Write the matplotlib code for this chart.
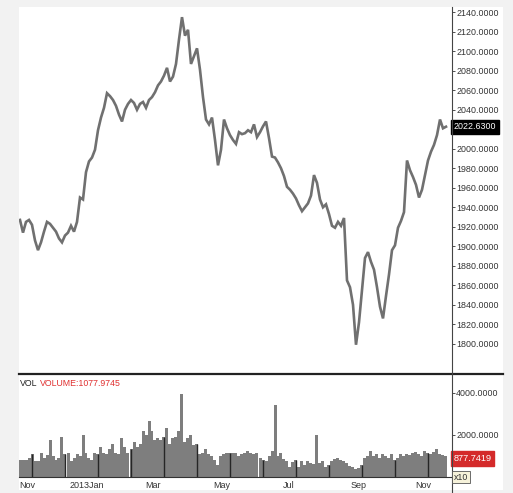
import matplotlib
matplotlib.use("Agg")
import matplotlib.pyplot as plt
import matplotlib.transforms as mtransforms
from matplotlib.patches import Rectangle
from matplotlib.lines import Line2D

plt.rcParams['font.family'] = ['Liberation Sans', 'DejaVu Sans']

# --- data (one value every ~1.5 trading days) ---
price = [1927, 1914, 1925, 1927, 1922, 1906, 1896, 1904, 1915, 1925,
         1923, 1919, 1915, 1908, 1904, 1911, 1914, 1921, 1915, 1925,
         1950, 1948, 1976, 1987, 1991, 1999, 2019, 2032, 2042, 2057,
         2054, 2050, 2044, 2035, 2028, 2040, 2046, 2050, 2047, 2040,
         2046, 2048, 2042, 2050, 2053, 2058, 2065, 2069, 2075, 2083,
         2069, 2074, 2087, 2112, 2135, 2116, 2122, 2087, 2095, 2103,
         2081, 2053, 2030, 2025, 2032, 2009, 1983, 1999, 2030, 2021,
         2014, 2009, 2005, 2017, 2015, 2016, 2019, 2017, 2025, 2012,
         2017, 2023, 2028, 2011, 1992, 1991, 1986, 1980, 1972, 1961,
         1958, 1954, 1949, 1942, 1936, 1940, 1944, 1952, 1973, 1965,
         1948, 1940, 1943, 1933, 1921, 1919, 1925, 1921, 1929, 1865,
         1858, 1840, 1799, 1822, 1855, 1888, 1894, 1884, 1876, 1858,
         1838, 1826, 1849, 1871, 1896, 1901, 1919, 1926, 1935, 1988,
         1978, 1971, 1963, 1950, 1958, 1973, 1988, 1997, 2004, 2014,
         2030, 2021, 2022.63]

volume = [800, 800, 800, 910, 1080, 740, 740, 1160, 910, 1030,
          1750, 1000, 830, 910, 1920, 1080, 1160, 740, 910, 1080,
          1000, 2000, 1160, 910, 830, 1160, 1080, 1420, 1160, 1080,
          1330, 1590, 1160, 1080, 1840, 1420, 1160, 1330, 1670, 1420,
          1590, 2210, 2010, 2680, 2210, 1750, 1840, 1750, 1920, 2340,
          1590, 1840, 1920, 2170, 3950, 1670, 1840, 2000, 1500, 1590,
          1080, 1160, 1330, 1080, 1000, 830, 570, 1000, 1080, 1160,
          1160, 1160, 1160, 1000, 1080, 1160, 1240, 1160, 1080, 1160,
          910, 830, 740, 1000, 1240, 3440, 1000, 1160, 860, 740,
          490, 700, 830, 490, 740, 570, 740, 660, 620, 2000,
          660, 740, 490, 570, 740, 860, 910, 830, 740, 660,
          520, 490, 400, 430, 570, 910, 1000, 1240, 1000, 1080,
          910, 1080, 1000, 910, 1080, 830, 910, 1080, 1000, 1080,
          1030, 1160, 1200, 1080, 1000, 1240, 1160, 1080, 1200, 1330,
          1080, 1030, 1000]

# month-start bars drawn darker in the volume pane
month_idx = [4, 15, 26, 37, 48, 59, 70, 81, 92, 103, 114, 125, 136]

month_labels = ['Nov', '2013Jan', 'Mar', 'May', 'Jul', 'Sep', 'Nov']
month_pos = [2.3, 22.3, 44.3, 67.3, 89.7, 112.7, 134.3]

price_ticks = list(range(1800, 2141, 20))
vol_ticks = [2000, 4000]
last_price = 2022.63
last_vol_avg = 877.7419
vol_title = 1077.9745

idx = list(range(len(price)))

W, H = 513, 493
fig = plt.figure(figsize=(W / 100, H / 100), dpi=100, facecolor='#f2f2f2')

# white chart area
fig.patches.append(Rectangle((19 / W, 3 / H), (503 - 19) / W, (493 - 10) / H,
                             transform=fig.transFigure, facecolor='white',
                             edgecolor='none', zorder=-5))

# --- price pane ---
ax1 = fig.add_axes([19 / W, 1 - 374 / H, 433 / W, 367 / H])
ax1.set_facecolor('none')
ax1.plot(idx, price, color='#707070', lw=1.9, solid_joinstyle='miter')
ax1.set_xlim(-1 / 3, 144)
ax1.set_ylim(1769, 2145.4)
for s in ['left', 'top', 'bottom', 'right']:
    ax1.spines[s].set_visible(False)
ax1.set_xticks([])
ax1.yaxis.tick_right()
ax1.set_yticks(price_ticks)
# the 2020 label sits under the last-price box
ax1.set_yticklabels(["" if v == 2020 else f"{v}.0000" for v in price_ticks])
ax1.tick_params(axis='y', direction='out', length=2, width=0.6, pad=1,
                labelsize=6.4, colors='#333333')

trans1 = mtransforms.blended_transform_factory(ax1.transAxes, ax1.transData)
ax1.text(1.004, last_price, f"{last_price:.4f}", transform=trans1,
         ha='left', va='center', fontsize=6.4, color='white', zorder=10,
         bbox=dict(boxstyle='square,pad=0.3', facecolor='black', edgecolor='black'))

# --- volume pane ---
ax2 = fig.add_axes([19 / W, 16 / H, 433 / W, 103 / H])
ax2.set_facecolor('none')
ax2.bar(idx, volume, width=1.0, color='#7e7e7e', linewidth=0)
ax2.vlines(month_idx, 0, [volume[i] for i in month_idx], color='#262626', lw=1.0)
ax2.set_xlim(-1 / 3, 144)
ax2.set_ylim(0, 4900)
for s in ['left', 'top', 'right']:
    ax2.spines[s].set_visible(False)
ax2.spines['bottom'].set_color('#333333')
ax2.spines['bottom'].set_linewidth(0.8)
ax2.yaxis.tick_right()
ax2.set_yticks(vol_ticks)
ax2.set_yticklabels([f"{v}.0000" for v in vol_ticks])
ax2.tick_params(axis='y', direction='out', length=2, width=0.6, pad=1,
                labelsize=6.4, colors='#333333')
ax2.set_xticks(month_pos)
ax2.set_xticklabels(month_labels)
ax2.tick_params(axis='x', length=0, pad=3, labelsize=6.5, colors='#333333')

trans2 = mtransforms.blended_transform_factory(ax2.transAxes, ax2.transData)
ax2.text(1.004, last_vol_avg, f"{last_vol_avg:.4f}", transform=trans2,
         ha='left', va='center', fontsize=6.6, color='white', zorder=10,
         bbox=dict(boxstyle='square,pad=0.3', facecolor='#d42a2a', edgecolor='#d42a2a'))

fig.text(454 / W, 1 - 477 / H, "x10", fontsize=6.3, color='#333333',
         ha='left', va='center',
         bbox=dict(boxstyle='square,pad=0.2', facecolor='#f6f2da', edgecolor='#555555', lw=0.6))

fig.text(20 / W, 1 - 384 / H, "VOL", fontsize=6.3, color='#222222', va='center')
fig.text(40 / W, 1 - 384 / H, f"VOLUME:{vol_title:.4f}", fontsize=6.3,
         color='#e03030', va='center')

# separators: pane divider and right scale line
fig.lines.append(Line2D([19 / W, 503 / W], [1 - 374 / H, 1 - 374 / H],
                        transform=fig.transFigure, color='#222222', lw=1.6))
fig.lines.append(Line2D([452 / W, 452 / W], [0, 1 - 7 / H],
                        transform=fig.transFigure, color='#444444', lw=0.8))

fig.savefig("out.png", dpi=100, facecolor=fig.get_facecolor())
